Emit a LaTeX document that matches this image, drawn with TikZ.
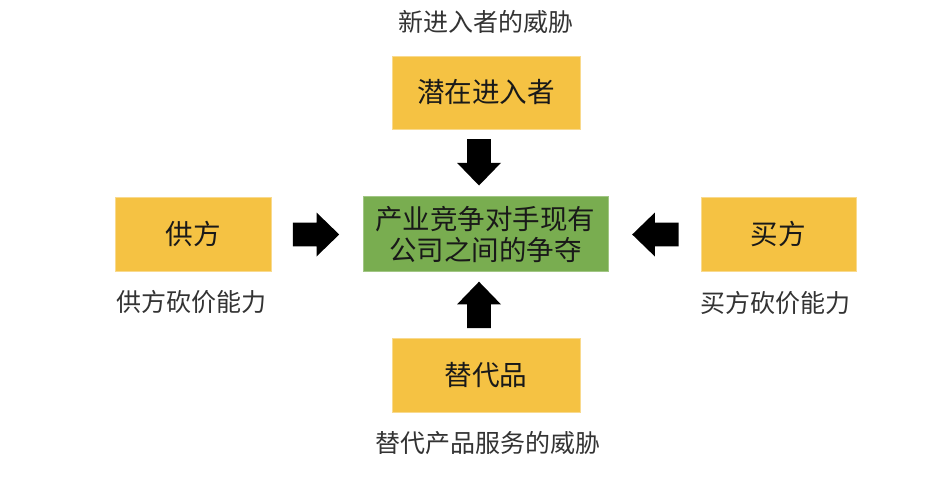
\documentclass[tikz,border=0pt]{standalone}
\usepackage{fontspec}
\setmainfont{Noto Sans CJK SC}
\definecolor{boxyellow}{HTML}{F5C243}
\definecolor{boxgreen}{HTML}{79AD50}
\definecolor{labelgray}{HTML}{333333}
\tikzset{
  ybox/.style={fill=boxyellow, draw=boxyellow!60!white, line width=0.6pt, inner sep=0pt, font=\fontsize{27.6}{31}\selectfont, text=black!90},
  gbox/.style={fill=boxgreen, draw=boxgreen!70!white, line width=0.6pt, inner sep=0pt, align=center, font=\fontsize{27.5}{31}\selectfont, text=black!90},
  lbl/.style={font=\fontsize{25}{28}\selectfont, text=labelgray, inner sep=0pt},
  blockarrow/.pic={\fill[black] (-23.2,-11.8) -- (0.5,-11.8) -- (0.5,-22) -- (23.2,0) -- (0.5,22) -- (0.5,11.8) -- (-23.2,11.8) -- cycle;}
}
\begin{document}
\begin{tikzpicture}[x=1pt,y=-1pt]
\path[use as bounding box, fill=white] (0,0) rectangle (936,484);
% boxes
\node[ybox, minimum width=188pt, minimum height=73pt] (top) at (486,92.5) {潜在进入者};
\node[ybox, minimum width=188pt, minimum height=74pt] (bottom) at (486,375.5) {替代品};
\node[ybox, minimum width=156pt, minimum height=74pt] (left) at (193,234) {供方};
\node[ybox, minimum width=155pt, minimum height=74pt] (right) at (778.5,234) {买方};
\node[gbox, minimum width=245pt, minimum height=75pt] (center) at (485.3,234.2) {产业竞争对手现有\\公司之间的争夺};
% labels
\node[lbl] (ltop) at (486,22) {新进入者的威胁};
\node[lbl] (lleft) at (191.5,302) {供方砍价能力};
\node[lbl] (lright) at (775,303) {买方砍价能力};
\node[lbl] (lbottom) at (487.5,443) {替代产品服务的威胁};
% block arrows
\pic at (316,234.5) {blockarrow};
\pic[rotate=180] at (655.4,234.5) {blockarrow};
\pic[rotate=-90] at (479,162.3) {blockarrow};
\pic[rotate=90] at (479,304.9) {blockarrow};
\end{tikzpicture}
\end{document}
